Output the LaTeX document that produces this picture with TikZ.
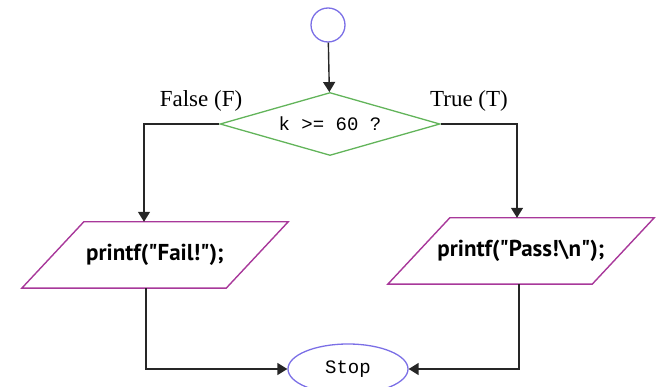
\documentclass[tikz,border=0pt]{standalone}
\usepackage{fontspec}
\setmainfont{Liberation Serif}
\newfontfamily\codefont{Liberation Mono}
\newfontfamily\stmtfont{PT Sans}
\usetikzlibrary{shapes.geometric,arrows.meta}
\definecolor{termblue}{HTML}{7B6FE6}
\definecolor{decgreen}{HTML}{62B45A}
\definecolor{iopurple}{HTML}{A8389A}
\begin{document}
\begin{tikzpicture}[x=1pt, y=-1pt,
    flow/.style={draw=black!85, line width=1.4pt, -{Triangle[length=10pt,width=12pt]}},
    term/.style={draw=termblue, line width=1.3pt, inner sep=0pt},
    decide/.style={diamond, aspect=3.5, draw=decgreen, line width=1.3pt, inner sep=0pt,
      minimum width=220pt, minimum height=63pt, font=\codefont\fontsize{19}{22}\selectfont},
    iobody/.style={inner sep=0pt, minimum width=204pt, minimum height=66pt,
      font=\stmtfont\bfseries\fontsize{23}{26}\selectfont},
    ioedge/.style={draw=iopurple, line width=1.4pt},
    branch/.style={font=\fontsize{23}{26}\selectfont, inner sep=0pt}]
  \useasboundingbox (0,0) rectangle (662,387);
  % start
  \node[term, circle, minimum size=34pt] (start) at (328,25) {};
  % decision
  \node[decide] (cond) at (330,124) {k >= 60 ?};
  \node[branch] (lblF) at (201,101) {False (F)};
  \node[branch] (lblT) at (469,101) {True (T)};
  % outputs (parallelograms round the text)
  \node[iobody] (fail) at (155,255) {printf("Fail!");};
  \draw[ioedge] ([xshift=31pt]fail.north west) -- ([xshift=31pt]fail.north east)
    -- ([xshift=-31pt]fail.south east) -- ([xshift=-31pt]fail.south west) -- cycle;
  \node[iobody] (pass) at (521,251) {printf("Pass!\textbackslash n");};
  \draw[ioedge] ([xshift=31pt]pass.north west) -- ([xshift=31pt]pass.north east)
    -- ([xshift=-31pt]pass.south east) -- ([xshift=-31pt]pass.south west) -- cycle;
  % stop
  \node[term, ellipse, minimum width=120pt, minimum height=50pt,
    font=\codefont\fontsize{19}{22}\selectfont] (stop) at (348,369) {Stop};
  % connectors
  \draw[flow] (start) -- (cond);
  \draw[flow] (cond.west) -| ([xshift=-11pt]fail.north);
  \draw[flow] (cond.east) -| ([xshift=-4pt]pass.north);
  \draw[flow] ([xshift=-9pt]fail.south) |- (stop.west);
  \draw[flow] ([xshift=-2pt]pass.south) |- (stop.east);
\end{tikzpicture}
\end{document}
